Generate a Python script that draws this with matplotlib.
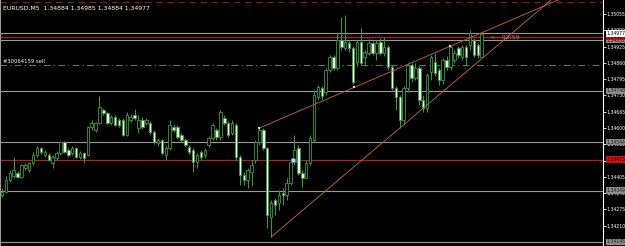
import numpy as np
import matplotlib
matplotlib.use("Agg")
import matplotlib.pyplot as plt
from matplotlib.transforms import blended_transform_factory

title_text = "EURUSD,M5  1.34884 1.34985 1.34884 1.34977"

opens = [1.34333, 1.34345, 1.34393, 1.34409, 1.34421, 1.34405, 1.34441, 1.34433, 1.34461, 1.34493,
         1.34520, 1.34493, 1.34493, 1.34461, 1.34481, 1.34501, 1.34544, 1.34513, 1.34501, 1.34520,
         1.34485, 1.34501, 1.34493, 1.34604, 1.34592, 1.34620, 1.34672, 1.34660, 1.34620, 1.34644,
         1.34632, 1.34632, 1.34572, 1.34632, 1.34652, 1.34600, 1.34632, 1.34620, 1.34620, 1.34584,
         1.34540, 1.34552, 1.34493, 1.34520, 1.34604, 1.34604, 1.34572, 1.34552, 1.34524, 1.34513,
         1.34465, 1.34505, 1.34493, 1.34532, 1.34560, 1.34592, 1.34564, 1.34640, 1.34620, 1.34580,
         1.34612, 1.34485, 1.34413, 1.34393, 1.34425, 1.34473, 1.34544, 1.34592, 1.34520, 1.34245,
         1.34313, 1.34301, 1.34341, 1.34333, 1.34381, 1.34465, 1.34520, 1.34421, 1.34401, 1.34461,
         1.34552, 1.34724, 1.34760, 1.34744, 1.34832, 1.34884, 1.34840, 1.34951, 1.34919, 1.34939,
         1.34919, 1.34864, 1.34943, 1.34884, 1.34900, 1.34939, 1.34900, 1.34943, 1.34900, 1.34923,
         1.34844, 1.34760, 1.34724, 1.34632, 1.34760, 1.34852, 1.34800, 1.34840, 1.34712, 1.34680,
         1.34824, 1.34864, 1.34832, 1.34792, 1.34872, 1.34844, 1.34872, 1.34919, 1.34884, 1.34923,
         1.34931, 1.34951, 1.34931, 1.34884]
highs = [1.34361, 1.34409, 1.34433, 1.34485, 1.34429, 1.34457, 1.34461, 1.34465, 1.34505, 1.34528,
         1.34524, 1.34513, 1.34501, 1.34493, 1.34509, 1.34548, 1.34548, 1.34520, 1.34528, 1.34524,
         1.34509, 1.34505, 1.34608, 1.34632, 1.34624, 1.34728, 1.34680, 1.34664, 1.34652, 1.34652,
         1.34640, 1.34640, 1.34664, 1.34656, 1.34676, 1.34652, 1.34644, 1.34640, 1.34628, 1.34592,
         1.34560, 1.34556, 1.34528, 1.34632, 1.34616, 1.34612, 1.34580, 1.34560, 1.34532, 1.34520,
         1.34501, 1.34513, 1.34520, 1.34568, 1.34620, 1.34600, 1.34672, 1.34652, 1.34628, 1.34632,
         1.34620, 1.34493, 1.34425, 1.34441, 1.34473, 1.34552, 1.34600, 1.34600, 1.34524, 1.34313,
         1.34321, 1.34353, 1.34361, 1.34401, 1.34481, 1.34572, 1.34532, 1.34433, 1.34473, 1.34572,
         1.34752, 1.34772, 1.34768, 1.34840, 1.34892, 1.34892, 1.34979, 1.35043, 1.35051, 1.34951,
         1.34927, 1.34951, 1.34999, 1.34911, 1.34955, 1.34947, 1.34951, 1.34959, 1.34963, 1.34931,
         1.34852, 1.34768, 1.34732, 1.34768, 1.34860, 1.34860, 1.34860, 1.34848, 1.34732, 1.34820,
         1.34892, 1.34900, 1.34840, 1.34880, 1.34888, 1.34927, 1.34911, 1.34927, 1.34931, 1.34931,
         1.34991, 1.34959, 1.34939, 1.34985]
lows = [1.34325, 1.34341, 1.34385, 1.34401, 1.34401, 1.34401, 1.34433, 1.34425, 1.34453, 1.34485,
        1.34497, 1.34485, 1.34469, 1.34441, 1.34473, 1.34493, 1.34501, 1.34485, 1.34493, 1.34481,
        1.34477, 1.34461, 1.34489, 1.34592, 1.34584, 1.34616, 1.34652, 1.34616, 1.34612, 1.34608,
        1.34604, 1.34568, 1.34568, 1.34624, 1.34632, 1.34580, 1.34596, 1.34612, 1.34576, 1.34536,
        1.34528, 1.34493, 1.34473, 1.34513, 1.34584, 1.34556, 1.34544, 1.34524, 1.34497, 1.34425,
        1.34441, 1.34473, 1.34481, 1.34524, 1.34552, 1.34552, 1.34552, 1.34612, 1.34564, 1.34572,
        1.34473, 1.34373, 1.34373, 1.34361, 1.34369, 1.34461, 1.34532, 1.34513, 1.34201, 1.34165,
        1.34253, 1.34273, 1.34293, 1.34313, 1.34373, 1.34453, 1.34413, 1.34365, 1.34401, 1.34453,
        1.34544, 1.34712, 1.34712, 1.34732, 1.34824, 1.34832, 1.34832, 1.34911, 1.34911, 1.34904,
        1.34776, 1.34848, 1.34852, 1.34848, 1.34892, 1.34892, 1.34872, 1.34892, 1.34888, 1.34832,
        1.34752, 1.34672, 1.34600, 1.34612, 1.34744, 1.34784, 1.34792, 1.34692, 1.34664, 1.34664,
        1.34792, 1.34808, 1.34772, 1.34776, 1.34832, 1.34832, 1.34860, 1.34880, 1.34872, 1.34852,
        1.34911, 1.34884, 1.34880, 1.34884]
closes = [1.34345, 1.34393, 1.34421, 1.34433, 1.34405, 1.34453, 1.34453, 1.34461, 1.34493, 1.34520,
          1.34505, 1.34505, 1.34473, 1.34485, 1.34501, 1.34544, 1.34505, 1.34493, 1.34520, 1.34485,
          1.34501, 1.34481, 1.34604, 1.34620, 1.34620, 1.34684, 1.34660, 1.34620, 1.34644, 1.34612,
          1.34612, 1.34572, 1.34652, 1.34644, 1.34640, 1.34632, 1.34604, 1.34632, 1.34584, 1.34544,
          1.34552, 1.34501, 1.34520, 1.34612, 1.34592, 1.34564, 1.34552, 1.34532, 1.34505, 1.34465,
          1.34493, 1.34485, 1.34513, 1.34560, 1.34612, 1.34564, 1.34664, 1.34620, 1.34572, 1.34620,
          1.34485, 1.34413, 1.34393, 1.34433, 1.34453, 1.34544, 1.34592, 1.34520, 1.34253, 1.34301,
          1.34293, 1.34333, 1.34333, 1.34381, 1.34465, 1.34513, 1.34421, 1.34401, 1.34461, 1.34560,
          1.34732, 1.34764, 1.34728, 1.34832, 1.34884, 1.34840, 1.34951, 1.34923, 1.34943, 1.34919,
          1.34784, 1.34943, 1.34860, 1.34904, 1.34939, 1.34900, 1.34939, 1.34900, 1.34923, 1.34844,
          1.34760, 1.34724, 1.34632, 1.34760, 1.34852, 1.34800, 1.34840, 1.34712, 1.34680, 1.34812,
          1.34884, 1.34820, 1.34792, 1.34872, 1.34844, 1.34923, 1.34900, 1.34892, 1.34923, 1.34884,
          1.34979, 1.34892, 1.34892, 1.34977]

tick_prices = [1.35055, 1.34990, 1.34925, 1.34860, 1.34795, 1.34730, 1.34665,
               1.34600, 1.34535, 1.34470, 1.34405, 1.34340, 1.34275, 1.34210]

grey_levels = [1.34979, 1.34951, 1.34748, 1.34544, 1.34349, 1.34145]
red_levels = [1.34963, 1.34473]
order_level = 1.34852
order_label = "#30064159 sell"
stop_level = 1.35103
bid_price = 1.34977
timer_text = "<-- 02:59"

# linhas de tendência: (índice da barra, preço)
upper_trend = [(66, 1.34600), (115, 1.34927)]
lower_trend = [(69, 1.34165), (114, 1.34758)]
upper_marks = [66, 90.3, 114.9]
entry_mark = (74.6, 1.34473)

# --- Figura ---
BG = "black"
CANDLE = "#3a9a3a"
BEAR_FILL = "#e6fbe6"
TREND = "#b4584a"
FS = 3.3

fig = plt.figure(figsize=(6.25, 2.46), dpi=100, facecolor=BG)
ax = fig.add_axes([0, 0, 603 / 625, 1], facecolor=BG)

n = len(opens)
x = np.arange(n)
o = np.array(opens); h = np.array(highs); l = np.array(lows); c = np.array(closes)

# linhas horizontais
for p in grey_levels:
    ax.axhline(p, color="#9a9a9a", lw=0.8, zorder=1)
for p in red_levels:
    ax.axhline(p, color="#b02020", lw=0.9, zorder=1)
ax.axhline(order_level, color="#4f7f4f", lw=0.8, ls=(0, (6, 3, 1, 3)), zorder=1)
ax.axhline(stop_level, color="#8a1a1a", lw=0.8, ls=(0, (6, 4)), zorder=1)

# velas
ax.vlines(x, l, h, color=CANDLE, lw=0.75, zorder=2)
up = c >= o
ax.bar(x[up], (c - o)[up], bottom=o[up], width=0.62, color=BG,
       edgecolor=CANDLE, lw=0.6, zorder=3)
ax.bar(x[~up], (o - c)[~up], bottom=c[~up], width=0.62, color=BEAR_FILL,
       edgecolor=CANDLE, lw=0.6, zorder=3)

# linhas de tendência (raio para a direita)
def ray(points, x_end=170):
    (x0, y0), (x1, y1) = points
    k = (y1 - y0) / (x1 - x0)
    return [x0, x_end], [y0, y0 + k * (x_end - x0)], k

ux, uy, uk = ray(upper_trend)
lx, ly, lk = ray(lower_trend)
ax.plot(ux, uy, color=TREND, lw=0.7, zorder=4)
ax.plot(lx, ly, color=TREND, lw=0.7, zorder=4)
mk_y = [upper_trend[0][1] + uk * (m - upper_trend[0][0]) for m in upper_marks]
ax.scatter(upper_marks, mk_y, marker="s", s=4, color="#f0c8c0", zorder=5, lw=0)
ax.scatter([entry_mark[0]], [entry_mark[1]], marker="o", s=10, color="#c8d0ff",
           edgecolor="#6070c0", lw=0.5, zorder=5)

# eixos
ax.set_xlim(-0.51, 154.1)
ax.set_ylim(1.34129, 1.35111)
ax.set_xticks([])
ax.yaxis.tick_right()
ax.set_yticks(tick_prices)
ax.set_yticklabels([f"{p:.5f}" for p in tick_prices])
ax.tick_params(axis="y", colors="white", labelsize=FS, length=2, width=0.6, pad=0.8)
for s in ["top", "bottom"]:
    ax.spines[s].set_visible(False)
ax.spines["right"].set_color("white")
ax.spines["right"].set_linewidth(0.8)
ax.spines["left"].set_color("#9a9a9a")
ax.spines["left"].set_linewidth(0.8)

# etiquetas na escala de preços
tr = blended_transform_factory(ax.transAxes, ax.transData)
def price_box(p, fc, tc):
    ax.text(1.006, p, f"{p:.5f}", transform=tr, fontsize=FS, color=tc, ha="left",
            va="center", bbox=dict(boxstyle="square,pad=0.2", fc=fc, ec="none"), zorder=6)

for p in grey_levels:
    price_box(p, "#8c8c8c", "#202020")
for p in red_levels:
    price_box(p, "#d01010", "#300000")
price_box(bid_price, "white", "black")

# textos
ax.text(0.005, 0.975, title_text, transform=ax.transAxes, fontsize=4.4, color="white",
        ha="left", va="top")
ax.text(0.3, order_level + 0.00005, order_label, fontsize=3.8, color="white",
        ha="left", va="bottom")
ax.text(125, 1.34962, timer_text, fontsize=4.5, color="#e07060", ha="left", va="center",
        zorder=7)

fig.savefig("out.png", dpi=100, facecolor=BG)
